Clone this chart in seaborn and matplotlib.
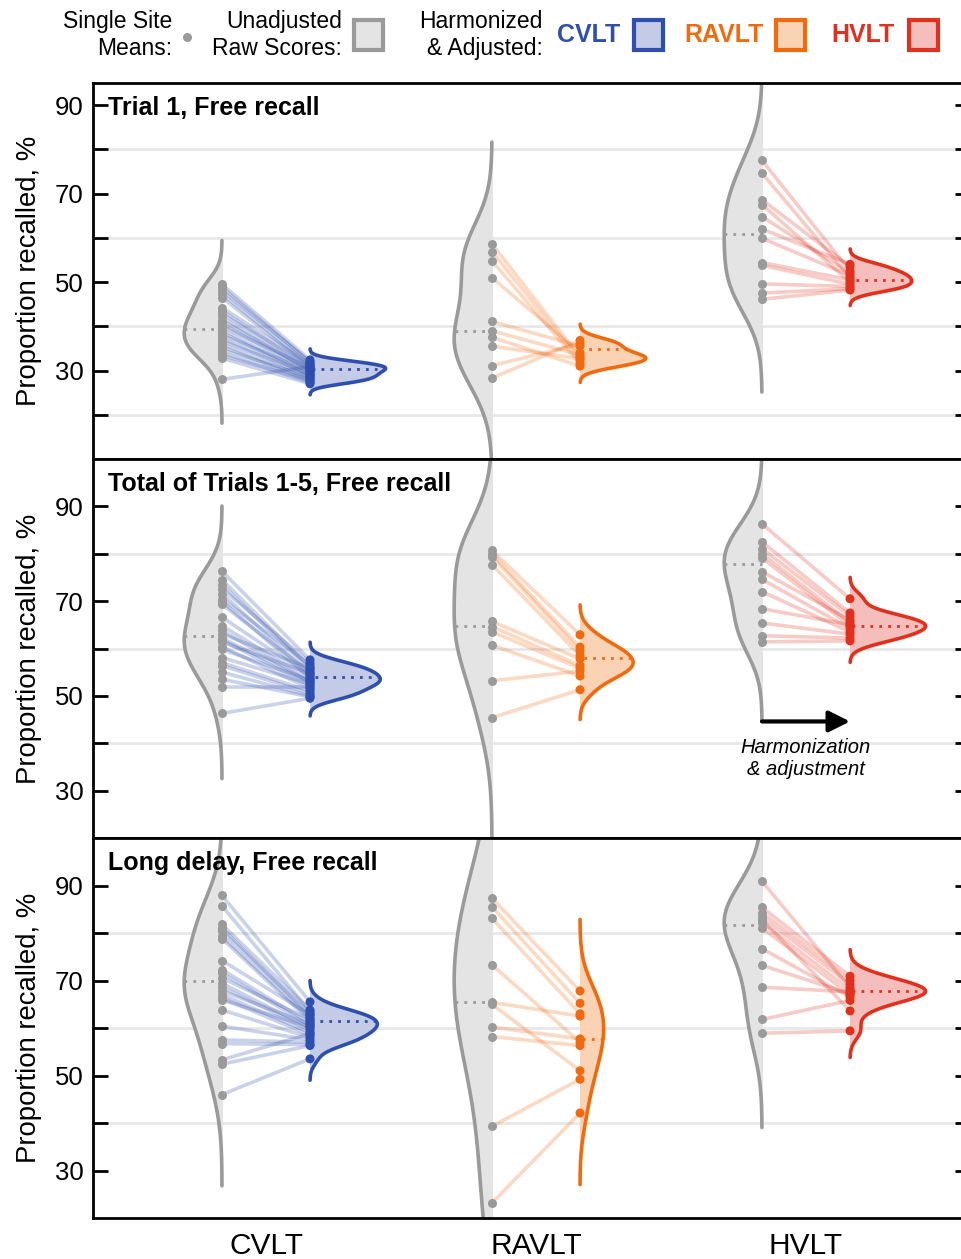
import numpy as np
import pandas as pd
import matplotlib
matplotlib.use("Agg")
import matplotlib.pyplot as plt
from matplotlib.patches import Rectangle
from matplotlib.lines import Line2D
import seaborn as sns

sns.set_style("white")
plt.rcParams["font.family"] = ["Liberation Sans", "DejaVu Sans"]
plt.rcParams.update({"text.color": "black", "axes.labelcolor": "black",
                     "xtick.color": "black", "ytick.color": "black"})

tests = ["CVLT", "RAVLT", "HVLT"]
panel_titles = ["Trial 1, Free recall", "Total of Trials 1-5, Free recall", "Long delay, Free recall"]

# ---- Trial 1: single-site means (%), raw and harmonized/adjusted ----
t1_cvlt_raw = [49.5, 48.8, 48.1, 47.3, 46.5, 44.2, 43.5, 42.8, 42.0, 41.3, 40.6, 40.0,
               39.3, 38.6, 38.0, 37.3, 36.7, 36.0, 35.4, 34.7, 34.0, 33.4, 32.8, 28.0]
t1_cvlt_adj = [32.4, 31.8, 32.0, 31.2, 30.8, 31.5, 30.4, 31.0, 29.8, 30.2, 29.5, 30.6,
               29.0, 28.8, 29.9, 28.4, 29.2, 28.0, 27.6, 28.6, 27.3, 27.9, 27.0, 30.9]
t1_ravlt_raw = [58.6, 56.9, 54.8, 51.0, 41.1, 39.0, 37.5, 35.5, 31.1, 28.3]
t1_ravlt_adj = [33.0, 32.2, 31.5, 34.0, 35.5, 33.5, 31.0, 32.7, 36.0, 36.8]
t1_hvlt_raw = [77.5, 74.6, 68.6, 67.5, 64.8, 62.0, 59.9, 54.4, 53.8, 49.6, 47.5, 46.1]
t1_hvlt_adj = [52.5, 51.0, 53.5, 50.0, 52.0, 54.0, 51.5, 50.5, 49.5, 49.0, 48.5, 48.2]
t1_raw_mean = [39.3, 39.0, 60.8]
t1_adj_mean = [30.4, 34.8, 50.4]

# ---- Total of trials 1-5 ----
t15_cvlt_raw = [76.3, 74.5, 73.5, 72.6, 71.6, 70.5, 70.0, 69.3, 66.6, 64.8, 63.8, 63.1,
                62.2, 61.8, 61.3, 60.4, 59.8, 58.1, 57.0, 56.4, 55.0, 53.5, 51.8, 46.3]
t15_cvlt_adj = [57.6, 56.0, 55.5, 57.0, 54.5, 56.5, 53.8, 55.0, 54.2, 53.5, 52.8, 55.8,
                53.0, 52.2, 54.8, 51.5, 53.3, 52.5, 51.0, 50.5, 50.0, 49.8, 51.8, 49.5]
t15_ravlt_raw = [80.7, 80.0, 79.4, 77.7, 65.7, 64.6, 63.5, 60.7, 53.2, 45.4]
t15_ravlt_adj = [62.9, 60.3, 59.5, 58.5, 57.8, 56.4, 55.8, 54.2, 55.2, 51.3]
t15_hvlt_raw = [86.3, 82.5, 81.1, 80.0, 79.1, 76.2, 74.6, 72.0, 68.4, 65.4, 62.7, 61.4]
t15_hvlt_adj = [70.5, 67.5, 66.8, 65.5, 64.8, 66.0, 64.2, 63.5, 65.0, 63.0, 62.2, 61.6]
t15_raw_mean = [62.6, 64.7, 77.9]
t15_adj_mean = [53.9, 58.1, 64.8]

# ---- Long delay ----
ld_cvlt_raw = [87.9, 85.7, 81.8, 81.1, 80.4, 79.4, 78.8, 74.2, 72.3, 71.5, 70.5, 69.4,
               68.6, 67.8, 67.0, 66.3, 65.9, 63.8, 60.4, 57.5, 56.7, 53.3, 52.4, 46.0]
ld_cvlt_adj = [65.5, 63.5, 63.8, 62.5, 63.0, 62.0, 61.5, 62.8, 61.0, 60.5, 61.8, 60.0,
               59.5, 60.8, 59.0, 58.5, 60.2, 58.0, 57.5, 57.0, 56.5, 58.8, 56.3, 53.5]
ld_ravlt_raw = [87.3, 85.5, 83.1, 73.3, 65.4, 65.0, 60.2, 58.2, 39.3, 23.2]
ld_ravlt_adj = [67.8, 65.2, 63.0, 57.0, 62.5, 51.0, 57.7, 56.3, 49.2, 42.1]
ld_hvlt_raw = [90.9, 85.4, 84.3, 83.3, 82.8, 82.2, 81.1, 76.7, 73.2, 68.6, 61.8, 58.9]
ld_hvlt_adj = [68.5, 70.9, 70.0, 69.2, 63.6, 68.0, 67.0, 66.5, 67.2, 67.6, 65.8, 59.4]
ld_raw_mean = [70.0, 65.4, 81.6]
ld_adj_mean = [61.4, 57.6, 67.8]

panel_raw = [[t1_cvlt_raw, t1_ravlt_raw, t1_hvlt_raw],
             [t15_cvlt_raw, t15_ravlt_raw, t15_hvlt_raw],
             [ld_cvlt_raw, ld_ravlt_raw, ld_hvlt_raw]]
panel_adj = [[t1_cvlt_adj, t1_ravlt_adj, t1_hvlt_adj],
             [t15_cvlt_adj, t15_ravlt_adj, t15_hvlt_adj],
             [ld_cvlt_adj, ld_ravlt_adj, ld_hvlt_adj]]
panel_raw_mean = [t1_raw_mean, t15_raw_mean, ld_raw_mean]
panel_adj_mean = [t1_adj_mean, t15_adj_mean, ld_adj_mean]
panel_ylim = [(10, 95), (20, 100), (20, 100)]

# colours
line_col = {"CVLT": "#2f4fae", "RAVLT": "#f06a10", "HVLT": "#e0301e"}
fill_col = {"CVLT": "#c4cbe6", "RAVLT": "#fad3b5", "HVLT": "#f4bebc"}
GREY = "#9a9a9a"
GREY_FILL = "#e3e4e3"
OFF = 0.163


def panel_frame(raws, adjs):
    rows = []
    for i, t in enumerate(tests):
        for s, (r, a) in enumerate(zip(raws[i], adjs[i])):
            rows.append(dict(test=t, site=s, kind="raw", pos=i - OFF, score=r))
            rows.append(dict(test=t, site=s, kind="adj", pos=i + OFF, score=a))
    return pd.DataFrame(rows)


def half_violins(ax, data, side, means, ylim, **kws):
    """Draw full violins with seaborn, then keep one half and outline its curved side."""
    n0 = len(ax.collections)
    sns.violinplot(data=data, x="pos", y="score", native_scale=True, inner=None,
                   linewidth=0, cut=3, saturation=1, color=GREY_FILL, legend=False,
                   ax=ax, **kws)
    lo, hi = ylim
    for poly in ax.collections[n0:]:
        v = poly.get_paths()[0].vertices
        center = (v[:, 0].min() + v[:, 0].max()) / 2
        i = int(round(center - side * OFF))
        if side > 0:
            poly.set_facecolor(fill_col[tests[i]])
        clip = Rectangle((center if side > 0 else center - 1, lo), 1, hi - lo,
                         transform=ax.transData)
        poly.set_clip_path(clip)
        curve = v[(v[:, 0] - center) * side > 1e-9]
        curve = curve[np.argsort(curve[:, 1])]
        col = GREY if side < 0 else line_col[tests[i]]
        ax.plot(curve[:, 0], curve[:, 1], color=col, lw=2.6, zorder=2,
                solid_capstyle="round")
        m = means[i]
        xm = np.interp(m, curve[:, 1], curve[:, 0])
        ax.plot([xm, center], [m, m], color=col, lw=2, ls=(0, (1, 2.2)), zorder=2.5)


fig = plt.figure(figsize=(9.62, 12.59), dpi=100)
FW, FH = 962, 1259
left_px, right_px = 93, 970
bounds = [(83, 459), (459, 838), (838, 1218)]

for p in range(3):
    top, bot = bounds[p]
    ax = fig.add_axes([left_px / FW, 1 - bot / FH, (right_px - left_px) / FW, (bot - top) / FH])
    df = panel_frame(panel_raw[p], panel_adj[p])
    lo, hi = panel_ylim[p]

    half_violins(ax, df[df["kind"] == "raw"], -1, panel_raw_mean[p], (lo, hi),
                 density_norm="width", width=0.28, bw_adjust=1.1)
    half_violins(ax, df[df["kind"] == "adj"], +1, panel_adj_mean[p], (lo, hi),
                 density_norm="area", width=0.56, bw_adjust=1.0)

    # connecting lines for each site
    for i, t in enumerate(tests):
        for r, a in zip(panel_raw[p][i], panel_adj[p][i]):
            ax.plot([i - OFF, i + OFF], [r, a], color=line_col[t], alpha=0.25, lw=2.6,
                    zorder=3, solid_capstyle="butt")

    sns.scatterplot(data=df[df["kind"] == "raw"], x="pos", y="score", color=GREY,
                    s=42, linewidth=0, zorder=4, legend=False, ax=ax)
    sns.scatterplot(data=df[df["kind"] == "adj"], x="pos", y="score", hue="test",
                    palette=line_col, s=42, linewidth=0, zorder=4, legend=False, ax=ax)

    ax.set_ylim(lo, hi)
    ax.set_xlim((left_px - 266) / 270, (right_px - 266) / 270)
    for g in (20, 40, 60, 80):
        if lo < g < hi:
            ax.axhline(g, color="#e8e8e8", lw=2, zorder=0)
    ticks = [v for v in range(20, 91, 10) if v > lo]
    ax.set_yticks(ticks)
    ax.set_yticklabels([str(v) if v % 20 == 10 else "" for v in ticks])
    ax.tick_params(axis="y", which="both", left=True, right=True, direction="in",
                   length=11, width=2, labelsize=18.5, pad=7)
    ax.set_ylabel("Proportion recalled, %", fontsize=19.8, labelpad=9)
    if p == 2:
        ax.set_xticks([0, 1, 2])
        ax.set_xticklabels(tests)
        ax.tick_params(axis="x", length=0, labelsize=21.5, pad=10)
    else:
        ax.set_xticks([])
    ax.set_xlabel("")
    for sp in ax.spines.values():
        sp.set_color("black")
        sp.set_linewidth(2)
    ax.text(0.017, 0.965, panel_titles[p], transform=ax.transAxes, ha="left", va="top",
            fontsize=18, fontweight="bold", zorder=6)

    if p == 1:
        ax.annotate("", xy=(2 + OFF, 44.6), xytext=(2 - OFF, 44.6),
                    arrowprops=dict(arrowstyle="-|>", lw=3, color="black", mutation_scale=32,
                                    shrinkA=0, shrinkB=0))
        ax.text(2.0, 36.8, "Harmonization\n& adjustment", ha="center", va="center",
                fontsize=14.5, fontstyle="italic", linespacing=1.25)

# ---- legend row ----
ly = 1 - 35 / FH
kw = dict(ha="right", va="center", fontsize=16.5, linespacing=1.2)
fig.text(172 / FW, ly, "Single Site\nMeans:", **kw)
fig.text(342 / FW, ly, "Unadjusted\nRaw Scores:", **kw)
fig.text(543 / FW, ly, "Harmonized\n& Adjusted:", **kw)
fig.add_artist(Line2D([187 / FW], [1 - 37 / FH], marker="o", ms=6.5, color=GREY,
                      markeredgewidth=0, transform=fig.transFigure))


def legend_box(x0, ec, fc):
    fig.add_artist(Rectangle((x0 / FW, 1 - 50 / FH), 29 / FW, 30 / FH, transform=fig.transFigure,
                             facecolor=fc, edgecolor=ec, linewidth=3))


legend_box(354, GREY, GREY_FILL)
for name, tx, bx in [("CVLT", 557, 634), ("RAVLT", 684, 776), ("HVLT", 831, 909)]:
    fig.text(tx / FW, ly, name, ha="left", va="center", fontsize=18, fontweight="bold",
             color=line_col[name])
    legend_box(bx, line_col[name], fill_col[name])

fig.savefig("out.png", dpi=100)
